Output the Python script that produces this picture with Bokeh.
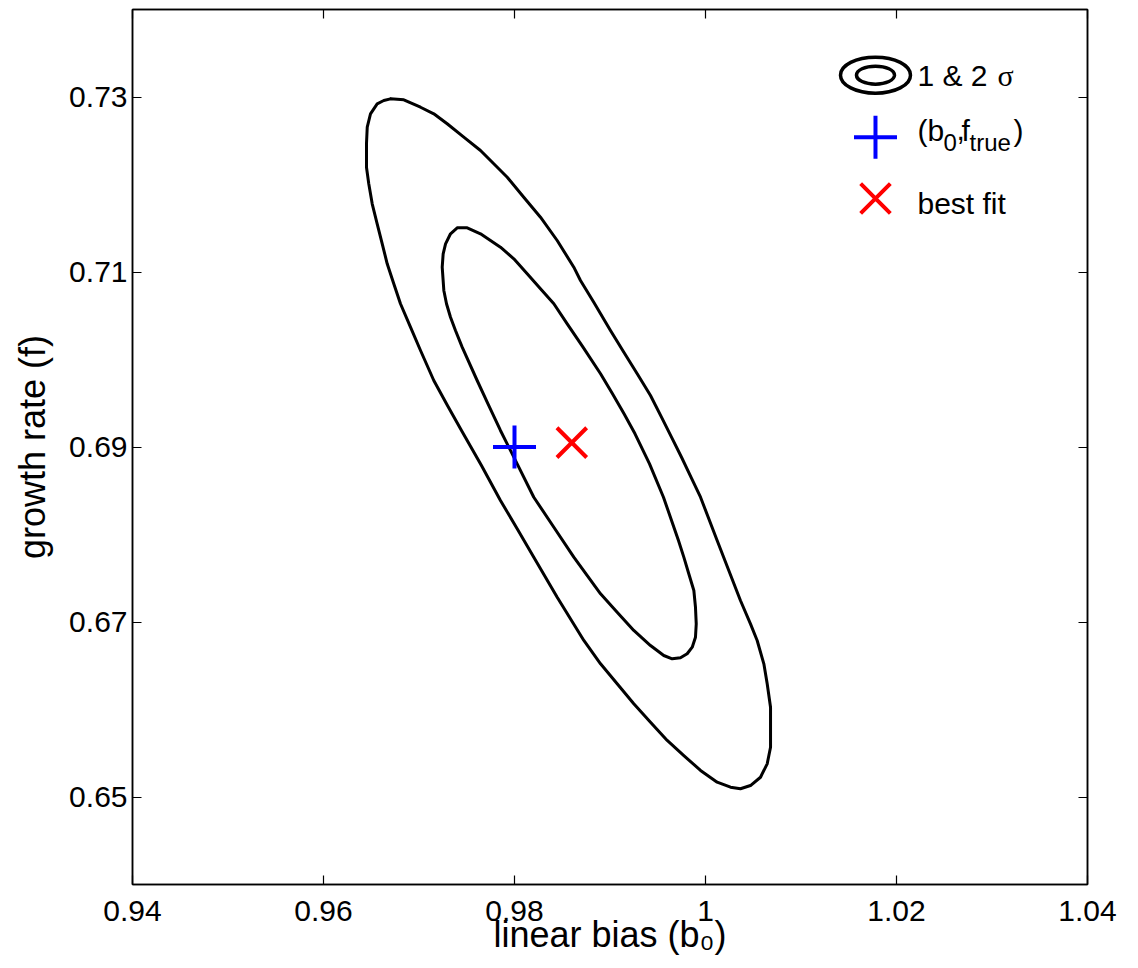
from bokeh.plotting import figure
from bokeh.models import Range1d, FixedTicker, CustomJSTickFormatter, LinearAxis
from bokeh.core.properties import value
from bokeh.embed import file_html
from bokeh.resources import INLINE

# Confidence contours in the (linear bias b0, growth rate f) plane
# 2-sigma contour
outer_b0 = [0.96702, 0.96841, 0.97016, 0.97155, 0.97295, 0.97469, 0.97644, 0.97783,
            0.97924, 0.98097, 0.98272, 0.98447, 0.98621, 0.98691, 0.98830, 0.99005,
            0.99145, 0.99285, 0.99424, 0.99539, 0.99644, 0.99749, 0.99848, 0.99948,
            1.00122, 1.00244, 1.00366, 1.00471, 1.00541, 1.00611, 1.00646, 1.00681,
            1.00681, 1.00681, 1.00646, 1.00576, 1.00471, 1.00366, 1.00262, 1.00122,
            0.99948, 0.99773, 0.99599, 0.99424, 0.99249, 0.99075, 0.98901, 0.98726,
            0.98447, 0.98202, 0.98028, 0.97853, 0.97654, 0.97445, 0.97298, 0.97155,
            0.97016, 0.96911, 0.96806, 0.96736, 0.96667, 0.96615, 0.96562, 0.96510,
            0.96474, 0.96450, 0.96450, 0.96458, 0.96492, 0.96562, 0.96631]
outer_f = [0.72979, 0.72968, 0.72883, 0.72808, 0.72694, 0.72541, 0.72389, 0.72237,
           0.72083, 0.71855, 0.71626, 0.71360, 0.71055, 0.70903, 0.70655, 0.70331,
           0.70083, 0.69837, 0.69589, 0.69341, 0.69112, 0.68883, 0.68655, 0.68426,
           0.67931, 0.67589, 0.67246, 0.66979, 0.66789, 0.66522, 0.66294, 0.66026,
           0.65798, 0.65569, 0.65379, 0.65226, 0.65131, 0.65094, 0.65112, 0.65169,
           0.65303, 0.65474, 0.65646, 0.65855, 0.66065, 0.66294, 0.66522, 0.66789,
           0.67283, 0.67741, 0.68065, 0.68389, 0.68789, 0.69189, 0.69474, 0.69760,
           0.70103, 0.70369, 0.70637, 0.70865, 0.71094, 0.71322, 0.71551, 0.71779,
           0.72008, 0.72198, 0.72465, 0.72655, 0.72808, 0.72922, 0.72960]

# 1-sigma contour
inner_b0 = [0.97400, 0.97505, 0.97644, 0.97853, 0.97993, 0.98133, 0.98272, 0.98412,
            0.98552, 0.98712, 0.98901, 0.99026, 0.99147, 0.99262, 0.99414, 0.99560,
            0.99717, 0.99773, 0.99825, 0.99878, 0.99895, 0.99903, 0.99895, 0.99861,
            0.99808, 0.99738, 0.99651, 0.99563, 0.99424, 0.99249, 0.99075, 0.98901,
            0.98621, 0.98412, 0.98202, 0.98028, 0.97853, 0.97731, 0.97609, 0.97452,
            0.97382, 0.97330, 0.97288, 0.97260, 0.97243, 0.97253, 0.97278, 0.97330]
inner_f = [0.71505, 0.71505, 0.71437, 0.71283, 0.71151, 0.70979, 0.70808, 0.70637,
           0.70408, 0.70149, 0.69837, 0.69608, 0.69379, 0.69151, 0.68808, 0.68426,
           0.67931, 0.67741, 0.67551, 0.67360, 0.67169, 0.66979, 0.66826, 0.66712,
           0.66637, 0.66591, 0.66579, 0.66617, 0.66731, 0.66903, 0.67112, 0.67322,
           0.67741, 0.68083, 0.68426, 0.68808, 0.69189, 0.69474, 0.69760, 0.70141,
           0.70331, 0.70483, 0.70637, 0.70789, 0.71055, 0.71208, 0.71322, 0.71437]

true_b0, true_f = [0.980], [0.690]
fit_b0, fit_f = [0.986], [0.6905]

x_ticks = [0.94, 0.96, 0.98, 1.00, 1.02, 1.04]
x_tick_labels = ["0.94", "0.96", "0.98", "1", "1.02", "1.04"]
y_ticks = [0.65, 0.67, 0.69, 0.71, 0.73]
y_tick_labels = ["0.65", "0.67", "0.69", "0.71", "0.73"]

X_RANGE = (0.94, 1.04)
Y_RANGE = (0.64, 0.74)

FONT = "Liberation Sans"

p = figure(width=1138, height=968,
           x_range=Range1d(*X_RANGE), y_range=Range1d(*Y_RANGE),
           output_backend="svg", toolbar_location=None,
           min_border_left=132, min_border_right=51,
           min_border_top=9, min_border_bottom=84)
p.background_fill_color = "white"
p.border_fill_color = "white"
p.outline_line_color = "black"
p.outline_line_width = 1.5
p.grid.visible = False

def label_formatter(vals, labels):
    return CustomJSTickFormatter(args=dict(tick_vals=vals, tick_text=labels), code="""
        let k = 0;
        for (let i = 0; i < tick_vals.length; i++) {
            if (Math.abs(tick_vals[i] - tick) < Math.abs(tick_vals[k] - tick)) k = i;
        }
        return tick_text[k];
    """)

def blank():
    return CustomJSTickFormatter(code="return '';")

def style_axis(ax, ticks):
    ax.ticker = FixedTicker(ticks=ticks)
    ax.major_tick_in = 9
    ax.major_tick_out = 0
    ax.minor_tick_line_color = None
    ax.major_tick_line_color = "black"
    ax.major_tick_line_width = 1.2
    ax.axis_line_color = "black"
    ax.axis_line_width = 1.5
    ax.major_label_text_font = FONT
    ax.major_label_text_font_size = "30px"
    ax.major_label_text_color = "black"
    ax.axis_label_text_font = FONT
    ax.axis_label_text_font_size = "36px"
    ax.axis_label_text_font_style = "normal"
    ax.axis_label_text_color = "black"

xa = p.xaxis[0]
style_axis(xa, x_ticks)
xa.formatter = label_formatter(x_ticks, x_tick_labels)
xa.major_label_standoff = 16
xa.axis_label = "linear bias (b\u2080)"
xa.axis_label_standoff = -10

ya = p.yaxis[0]
style_axis(ya, y_ticks)
ya.formatter = label_formatter(y_ticks, y_tick_labels)
ya.major_label_standoff = 5
ya.axis_label = "growth rate (f)"
ya.axis_label_standoff = 13

top = LinearAxis()
style_axis(top, x_ticks)
top.formatter = blank()
top.major_label_text_font_size = "1px"
top.major_label_standoff = 0
p.add_layout(top, "above")

right = LinearAxis()
style_axis(right, y_ticks)
right.formatter = blank()
right.major_label_text_font_size = "1px"
right.major_label_standoff = 0
p.add_layout(right, "right")

# contours, closed
for cx, cy in ((outer_b0, outer_f), (inner_b0, inner_f)):
    p.line(cx + cx[:1], cy + cy[:1], line_color="black", line_width=3,
           line_join="round", line_cap="round")

# fiducial and best-fit points
p.scatter(true_b0, true_f, marker="cross", size=43, line_color="#0000ff", line_width=4)
p.scatter(fit_b0, fit_f, marker="x", size=42, line_color="#ff0000", line_width=4)

# legend, anchored at fractions of the frame
def fx(t):
    return X_RANGE[0] + t * (X_RANGE[1] - X_RANGE[0])

def fy(t):
    return Y_RANGE[0] + t * (Y_RANGE[1] - Y_RANGE[0])

lx = fx(0.778)
row1, row2, row3 = fy(0.925), fy(0.854), fy(0.784)

p.ellipse([lx], [row1], width=70, height=36, width_units="screen", height_units="screen",
          fill_color=None, line_color="black", line_width=3.5)
p.ellipse([lx], [row1], width=38, height=18, width_units="screen", height_units="screen",
          fill_color=None, line_color="black", line_width=3.5)
p.scatter([lx], [row2], marker="cross", size=43, line_color="#0000ff", line_width=4)
p.scatter([lx], [row3], marker="x", size=42, line_color="#ff0000", line_width=4)

def legend_text(txt, y, dx, dy, size="30px", font=FONT):
    p.text([lx], [y], text=[txt], x_offset=dx, y_offset=dy,
           text_font=value(font), text_font_size=size, text_color="black",
           text_baseline="alphabetic", text_align="left")

legend_text("1 & 2", row1, 42, 0)
legend_text("\u03c3", row1, 122, 0, font="Liberation Serif")
legend_text("(b", row2, 42, -7)
legend_text("0", row2, 68, 5, size="24px")
legend_text(",", row2, 81, -7)
legend_text("f", row2, 86, -7)
legend_text("true", row2, 94, 5, size="24px")
legend_text(")", row2, 138, -7)
legend_text("best fit", row3, 42, 5)

open("out.html", "w").write(file_html(p, INLINE))
